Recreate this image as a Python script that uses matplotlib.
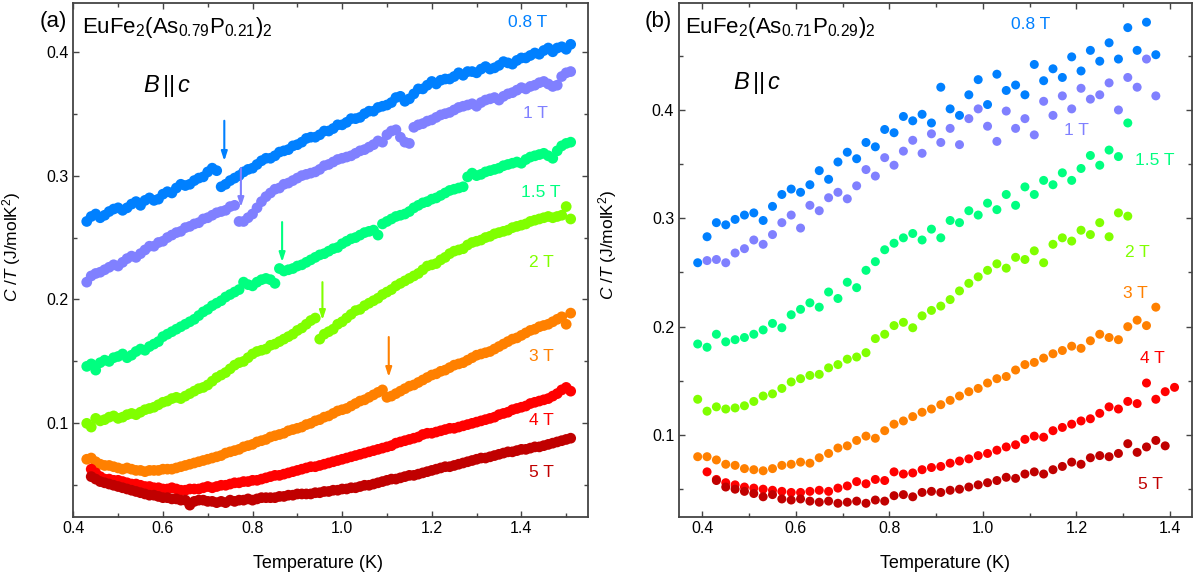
import matplotlib
matplotlib.use('Agg')
import matplotlib.pyplot as plt
from matplotlib.ticker import MultipleLocator

plt.rcParams['font.family'] = ['Liberation Sans', 'DejaVu Sans']
plt.rcParams['mathtext.fontset'] = 'custom'
plt.rcParams['mathtext.rm'] = 'Liberation Sans'
plt.rcParams['mathtext.it'] = 'Liberation Sans:italic'

# ---- panel (a): EuFe2(As0.79P0.21)2, 0.01 K steps ----
temp_a = [0.43, 0.44, 0.45, 0.46, 0.47, 0.48, 0.49, 0.50, 0.51, 0.52,
          0.53, 0.54, 0.55, 0.56, 0.57, 0.58, 0.59, 0.60, 0.61, 0.62,
          0.63, 0.64, 0.65, 0.66, 0.67, 0.68, 0.69, 0.70, 0.71, 0.72,
          0.73, 0.74, 0.75, 0.76, 0.77, 0.78, 0.79, 0.80, 0.81, 0.82,
          0.83, 0.84, 0.85, 0.86, 0.87, 0.88, 0.89, 0.90, 0.91, 0.92,
          0.93, 0.94, 0.95, 0.96, 0.97, 0.98, 0.99, 1.00, 1.01, 1.02,
          1.03, 1.04, 1.05, 1.06, 1.07, 1.08, 1.09, 1.10, 1.11, 1.12,
          1.13, 1.14, 1.15, 1.16, 1.17, 1.18, 1.19, 1.20, 1.21, 1.22,
          1.23, 1.24, 1.25, 1.26, 1.27, 1.28, 1.29, 1.30, 1.31, 1.32,
          1.33, 1.34, 1.35, 1.36, 1.37, 1.38, 1.39, 1.40, 1.41, 1.42,
          1.43, 1.44, 1.45, 1.46, 1.47, 1.48, 1.49, 1.50, 1.51]

a_08 = [0.263, 0.267, 0.269, 0.266, 0.268, 0.271, 0.273, 0.274, 0.272, 0.274,
        0.277, 0.279, 0.276, 0.280, 0.282, 0.280, 0.281, 0.285, 0.287, 0.286,
        0.290, 0.293, 0.292, 0.293, 0.296, 0.298, 0.299, 0.303, 0.306, 0.304,
        0.291, 0.293, 0.296, 0.298, 0.300, 0.303, 0.305, 0.306, 0.309, 0.312,
        0.314, 0.314, 0.316, 0.319, 0.320, 0.321, 0.324, 0.325, 0.327, 0.330,
        0.331, 0.331, 0.333, 0.336, 0.336, 0.338, 0.341, 0.341, 0.343, 0.346,
        0.346, 0.347, 0.350, 0.352, 0.352, 0.355, 0.356, 0.357, 0.359, 0.363,
        0.364, 0.360, 0.362, 0.366, 0.370, 0.370, 0.373, 0.376, 0.374, 0.377,
        0.378, 0.378, 0.380, 0.383, 0.381, 0.384, 0.384, 0.383, 0.386, 0.388,
        0.386, 0.387, 0.389, 0.392, 0.391, 0.390, 0.393, 0.395, 0.395, 0.397,
        0.399, 0.398, 0.401, 0.403, 0.400, 0.403, 0.404, 0.402, 0.406]
a_10 = [0.214, 0.219, 0.221, 0.222, 0.224, 0.226, 0.228, 0.227, 0.230, 0.233,
        0.235, 0.234, 0.237, 0.240, 0.243, 0.243, 0.246, 0.247, 0.250, 0.252,
        0.254, 0.255, 0.258, 0.259, 0.261, 0.262, 0.265, 0.266, 0.268, 0.270,
        0.271, 0.272, 0.275, 0.276, 0.263, 0.263, 0.266, 0.269, 0.274, 0.279,
        0.283, 0.286, 0.289, 0.290, 0.293, 0.294, 0.296, 0.298, 0.300, 0.301,
        0.302, 0.303, 0.305, 0.308, 0.309, 0.311, 0.313, 0.314, 0.315, 0.316,
        0.318, 0.320, 0.321, 0.323, 0.325, 0.328, 0.327, 0.333, 0.336, 0.337,
        0.331, 0.327, 0.326, 0.339, 0.341, 0.342, 0.344, 0.345, 0.347, 0.349,
        0.350, 0.351, 0.353, 0.355, 0.356, 0.357, 0.358, 0.356, 0.359, 0.361,
        0.362, 0.363, 0.361, 0.364, 0.366, 0.367, 0.369, 0.371, 0.370, 0.372,
        0.373, 0.375, 0.376, 0.374, 0.372, 0.373, 0.380, 0.383, 0.384]
a_15 = [0.146, 0.148, 0.143, 0.149, 0.151, 0.150, 0.153, 0.154, 0.156, 0.153,
        0.155, 0.158, 0.160, 0.159, 0.162, 0.164, 0.166, 0.170, 0.172, 0.174,
        0.176, 0.178, 0.180, 0.182, 0.184, 0.187, 0.190, 0.192, 0.195, 0.197,
        0.199, 0.202, 0.204, 0.206, 0.208, 0.214, 0.212, 0.211, 0.214, 0.216,
        0.217, 0.216, 0.213, 0.225, 0.223, 0.224, 0.225, 0.227, 0.228, 0.230,
        0.232, 0.234, 0.236, 0.237, 0.239, 0.241, 0.242, 0.245, 0.247, 0.249,
        0.250, 0.252, 0.254, 0.255, 0.256, 0.252, 0.261, 0.263, 0.265, 0.267,
        0.268, 0.269, 0.271, 0.274, 0.276, 0.278, 0.279, 0.281, 0.282, 0.284,
        0.286, 0.288, 0.289, 0.290, 0.291, 0.299, 0.302, 0.300, 0.301, 0.303,
        0.304, 0.305, 0.306, 0.308, 0.309, 0.310, 0.311, 0.310, 0.313, 0.315,
        0.316, 0.317, 0.318, 0.316, 0.314, 0.320, 0.324, 0.326, 0.327]
a_20 = [0.100, 0.097, 0.104, 0.102, 0.103, 0.105, 0.106, 0.104, 0.105, 0.107,
        0.108, 0.107, 0.109, 0.111, 0.112, 0.113, 0.115, 0.117, 0.118, 0.120,
        0.121, 0.120, 0.122, 0.124, 0.126, 0.128, 0.129, 0.131, 0.134, 0.137,
        0.139, 0.141, 0.144, 0.147, 0.149, 0.150, 0.153, 0.156, 0.158, 0.159,
        0.160, 0.163, 0.164, 0.166, 0.168, 0.170, 0.172, 0.175, 0.177, 0.180,
        0.183, 0.185, 0.168, 0.172, 0.174, 0.176, 0.180, 0.182, 0.185, 0.188,
        0.191, 0.192, 0.195, 0.197, 0.199, 0.201, 0.204, 0.206, 0.208, 0.211,
        0.213, 0.215, 0.217, 0.219, 0.221, 0.224, 0.227, 0.228, 0.229, 0.232,
        0.234, 0.237, 0.239, 0.240, 0.241, 0.244, 0.246, 0.247, 0.248, 0.250,
        0.251, 0.253, 0.254, 0.255, 0.256, 0.258, 0.259, 0.260, 0.261, 0.263,
        0.264, 0.265, 0.266, 0.267, 0.266, 0.267, 0.268, 0.275, 0.265]
a_30 = [0.071, 0.072, 0.069, 0.067, 0.066, 0.066, 0.065, 0.064, 0.063, 0.064,
        0.063, 0.062, 0.062, 0.061, 0.062, 0.062, 0.062, 0.063, 0.063, 0.063,
        0.064, 0.065, 0.066, 0.067, 0.068, 0.069, 0.070, 0.071, 0.072, 0.073,
        0.074, 0.076, 0.077, 0.078, 0.079, 0.081, 0.082, 0.083, 0.085, 0.086,
        0.087, 0.089, 0.090, 0.091, 0.092, 0.094, 0.095, 0.096, 0.097, 0.099,
        0.100, 0.102, 0.103, 0.105, 0.106, 0.108, 0.110, 0.111, 0.112, 0.114,
        0.116, 0.118, 0.119, 0.121, 0.123, 0.125, 0.127, 0.121, 0.122, 0.124,
        0.126, 0.128, 0.130, 0.131, 0.133, 0.135, 0.137, 0.139, 0.140, 0.142,
        0.143, 0.145, 0.147, 0.148, 0.149, 0.151, 0.153, 0.155, 0.156, 0.157,
        0.158, 0.160, 0.162, 0.164, 0.166, 0.168, 0.169, 0.171, 0.173, 0.175,
        0.176, 0.178, 0.179, 0.180, 0.182, 0.184, 0.186, 0.180, 0.189]
# 4 T and 5 T start at 0.44 K
a_40 = [0.063, 0.060, 0.057, 0.055, 0.055, 0.054, 0.054, 0.053, 0.052,
        0.051, 0.051, 0.050, 0.049, 0.049, 0.048, 0.048, 0.047, 0.047, 0.048,
        0.047, 0.046, 0.046, 0.047, 0.047, 0.047, 0.048, 0.049, 0.048, 0.049,
        0.050, 0.050, 0.051, 0.052, 0.052, 0.053, 0.053, 0.054, 0.054, 0.055,
        0.056, 0.057, 0.058, 0.058, 0.059, 0.060, 0.061, 0.062, 0.063, 0.064,
        0.065, 0.065, 0.066, 0.067, 0.068, 0.069, 0.070, 0.071, 0.072, 0.073,
        0.074, 0.075, 0.076, 0.077, 0.078, 0.079, 0.080, 0.081, 0.082, 0.084,
        0.085, 0.086, 0.087, 0.088, 0.089, 0.091, 0.092, 0.092, 0.093, 0.094,
        0.095, 0.096, 0.096, 0.097, 0.098, 0.099, 0.100, 0.101, 0.102, 0.103,
        0.104, 0.105, 0.107, 0.108, 0.109, 0.111, 0.112, 0.113, 0.114, 0.116,
        0.117, 0.118, 0.119, 0.120, 0.122, 0.124, 0.127, 0.129, 0.126]
a_50 = [0.057, 0.055, 0.053, 0.052, 0.051, 0.050, 0.049, 0.048, 0.047,
        0.046, 0.045, 0.044, 0.043, 0.042, 0.042, 0.041, 0.040, 0.040, 0.039,
        0.039, 0.038, 0.038, 0.034, 0.037, 0.038, 0.038, 0.037, 0.037, 0.036,
        0.037, 0.036, 0.038, 0.037, 0.038, 0.038, 0.039, 0.038, 0.039, 0.040,
        0.040, 0.040, 0.040, 0.041, 0.041, 0.042, 0.042, 0.043, 0.043, 0.043,
        0.043, 0.044, 0.044, 0.045, 0.045, 0.046, 0.046, 0.047, 0.047, 0.048,
        0.048, 0.049, 0.050, 0.050, 0.051, 0.052, 0.053, 0.054, 0.055, 0.055,
        0.056, 0.057, 0.058, 0.058, 0.059, 0.060, 0.061, 0.062, 0.063, 0.064,
        0.065, 0.065, 0.066, 0.067, 0.068, 0.069, 0.070, 0.071, 0.072, 0.072,
        0.073, 0.074, 0.075, 0.076, 0.077, 0.077, 0.078, 0.079, 0.079, 0.080,
        0.081, 0.081, 0.082, 0.083, 0.084, 0.085, 0.086, 0.087, 0.088]

# ---- panel (b): EuFe2(As0.71P0.29)2, 0.02 K steps ----
temp_b = [0.39, 0.41, 0.43, 0.45, 0.47, 0.49, 0.51, 0.53, 0.55, 0.57,
          0.59, 0.61, 0.63, 0.65, 0.67, 0.69, 0.71, 0.73, 0.75, 0.77,
          0.79, 0.81, 0.83, 0.85, 0.87, 0.89, 0.91, 0.93, 0.95, 0.97,
          0.99, 1.01, 1.03, 1.05, 1.07, 1.09, 1.11, 1.13, 1.15, 1.17,
          1.19, 1.21, 1.23, 1.25, 1.27, 1.29, 1.31, 1.33, 1.35, 1.37,
          1.39, 1.41]

b_08 = [0.259, 0.283, 0.296, 0.294, 0.299, 0.303, 0.305, 0.298, 0.311, 0.322,
        0.327, 0.324, 0.331, 0.344, 0.336, 0.352, 0.361, 0.355, 0.370, 0.366,
        0.382, 0.379, 0.394, 0.390, 0.396, 0.388, 0.421, 0.401, 0.395, 0.414,
        0.428, 0.405, 0.433, 0.418, 0.423, 0.414, 0.442, 0.427, 0.438, 0.430,
        0.449, 0.436, 0.455, 0.445, 0.462, 0.447, 0.476, 0.455, 0.481, 0.451]
b_10 = [0.261, 0.262, 0.259, 0.268, 0.272, 0.280, 0.276, 0.285, 0.296,
        0.303, 0.291, 0.312, 0.307, 0.319, 0.324, 0.318, 0.330, 0.345, 0.339,
        0.356, 0.349, 0.362, 0.372, 0.360, 0.378, 0.370, 0.383, 0.368, 0.392,
        0.401, 0.385, 0.371, 0.399, 0.383, 0.392, 0.377, 0.408, 0.395, 0.413,
        0.401, 0.420, 0.410, 0.414, 0.425, 0.400, 0.430, 0.421, 0.447, 0.413]
b_15 = [0.184, 0.181, 0.193, 0.186, 0.188, 0.190, 0.193, 0.197, 0.203, 0.199,
        0.211, 0.216, 0.222, 0.218, 0.232, 0.226, 0.241, 0.236, 0.252, 0.260,
        0.271, 0.277, 0.282, 0.286, 0.280, 0.290, 0.282, 0.298, 0.296, 0.307,
        0.303, 0.314, 0.308, 0.322, 0.312, 0.329, 0.322, 0.335, 0.331, 0.342,
        0.335, 0.346, 0.358, 0.349, 0.363, 0.357, 0.388]
b_20 = [0.133, 0.122, 0.126, 0.124, 0.125, 0.127, 0.131, 0.136, 0.138, 0.143,
        0.149, 0.152, 0.155, 0.156, 0.162, 0.165, 0.170, 0.172, 0.176, 0.189,
        0.193, 0.201, 0.204, 0.199, 0.210, 0.215, 0.219, 0.225, 0.233, 0.240,
        0.246, 0.252, 0.258, 0.254, 0.264, 0.262, 0.270, 0.259, 0.276, 0.282,
        0.279, 0.289, 0.285, 0.296, 0.283, 0.305, 0.302]
b_30 = [0.080, 0.080, 0.077, 0.073, 0.072, 0.069, 0.068, 0.067, 0.069, 0.072,
        0.073, 0.075, 0.074, 0.079, 0.083, 0.088, 0.090, 0.095, 0.099, 0.097,
        0.104, 0.110, 0.113, 0.117, 0.121, 0.124, 0.128, 0.132, 0.136, 0.140,
        0.143, 0.148, 0.152, 0.154, 0.160, 0.165, 0.167, 0.171, 0.175, 0.178,
        0.182, 0.180, 0.187, 0.193, 0.190, 0.188, 0.200, 0.206, 0.201, 0.218]
b_40 = [0.066, 0.059, 0.056, 0.054, 0.052, 0.051, 0.050, 0.049, 0.048,
        0.047, 0.047, 0.048, 0.049, 0.048, 0.051, 0.053, 0.057, 0.055, 0.059,
        0.058, 0.066, 0.064, 0.065, 0.068, 0.070, 0.071, 0.074, 0.076, 0.078,
        0.081, 0.083, 0.086, 0.089, 0.091, 0.096, 0.099, 0.098, 0.104, 0.107,
        0.110, 0.113, 0.115, 0.120, 0.126, 0.124, 0.131, 0.129, 0.148, 0.133,
        0.140, 0.144]
b_50 = [0.058, 0.052, 0.050, 0.048, 0.046, 0.043, 0.045, 0.041, 0.040,
        0.041, 0.039, 0.038, 0.039, 0.037, 0.038, 0.039, 0.037, 0.040, 0.039,
        0.044, 0.045, 0.043, 0.047, 0.048, 0.047, 0.049, 0.050, 0.052, 0.054,
        0.056, 0.058, 0.061, 0.060, 0.064, 0.066, 0.064, 0.068, 0.071, 0.075,
        0.073, 0.079, 0.081, 0.080, 0.083, 0.092, 0.084, 0.089, 0.095, 0.090]

fields = ['0.8 T', '1 T', '1.5 T', '2 T', '3 T', '4 T', '5 T']
colors = ['#0080ff', '#8080ff', '#00ff80', '#80ff00', '#ff8000', '#ff0000', '#c00000']

# (series, first temperature)
series_a = [(a_08, 0.43), (a_10, 0.43), (a_15, 0.43), (a_20, 0.43),
            (a_30, 0.43), (a_40, 0.44), (a_50, 0.44)]
series_b = [(b_08, 0.39), (b_10, 0.41), (b_15, 0.39), (b_20, 0.39),
            (b_30, 0.39), (b_40, 0.41), (b_50, 0.43)]

label_pos_a = [(1.414, 0.424), (1.431, 0.3505), (1.444, 0.2867), (1.444, 0.230),
               (1.444, 0.1543), (1.444, 0.1027), (1.444, 0.060)]
label_pos_b = [(1.102, 0.4785), (1.20, 0.3815), (1.367, 0.3538), (1.331, 0.268),
               (1.327, 0.231), (1.363, 0.171), (1.359, 0.0547)]

# transition arrows in (a): T, top, tip
arrow_t = [0.737, 0.774, 0.866, 0.956, 1.104]
arrow_top = [0.3443, 0.3061, 0.2625, 0.2140, 0.1697]
arrow_tip = [0.3118, 0.2746, 0.2302, 0.1834, 0.1374]

W, H = 1199, 582
fig = plt.figure(figsize=(W / 100, H / 100), dpi=100)
ax_a = fig.add_axes([73.3 / W, 1 - 516.5 / H, 514.4 / W, 513.8 / H])
ax_b = fig.add_axes([679 / W, 1 - 516.5 / H, 513.3 / W, 513.8 / H])


def draw(ax, temp, series, size):
    for (vals, t0), c in zip(series, colors):
        i0 = temp.index(t0)
        ax.scatter(temp[i0:i0 + len(vals)], vals, s=size, color=c,
                   edgecolors='none', zorder=3)


draw(ax_a, temp_a, series_a, 60)
draw(ax_b, temp_b, series_b, 42)

for (x, y), c, f in zip(label_pos_a, colors, fields):
    ax_a.text(x, y, f, color=c, fontsize=12.5, ha='center', va='center')
for (x, y), c, f in zip(label_pos_b, colors, fields):
    ax_b.text(x, y, f, color=c, fontsize=12.5, ha='center', va='center')

for t, y0, y1, c in zip(arrow_t, arrow_top, arrow_tip, colors):
    ax_a.annotate('', xy=(t, y1), xytext=(t, y0),
                  arrowprops=dict(arrowstyle='-|>,head_length=0.55,head_width=0.18',
                                  color=c, lw=1.5, shrinkA=0, shrinkB=0))

ax_a.set_xlim(0.4, 1.548)
ax_a.set_ylim(0.0248, 0.4396)
ax_b.set_xlim(0.35, 1.448)
ax_b.set_ylim(0.0248, 0.499)

for ax in (ax_a, ax_b):
    ax.xaxis.set_major_locator(MultipleLocator(0.2))
    ax.xaxis.set_minor_locator(MultipleLocator(0.1))
    ax.yaxis.set_major_locator(MultipleLocator(0.1))
    ax.yaxis.set_minor_locator(MultipleLocator(0.05))
    ax.tick_params(which='both', direction='in', top=True, right=True,
                   color='#444444', labelsize=11.5, width=1.0)
    ax.tick_params(which='major', length=4)
    ax.tick_params(which='minor', length=3)
    for sp in ax.spines.values():
        sp.set_color('#444444')
        sp.set_linewidth(1.3)
    ax.set_xlabel('Temperature (K)', fontsize=13)
    ax.set_ylabel(r'$C$ /$T$ (J/molK$^2$)', fontsize=12.5)

ax_a.xaxis.set_label_coords(0.475, -0.075)
ax_b.xaxis.set_label_coords(0.518, -0.075)
ax_a.yaxis.set_label_coords(-0.098, 0.525)
ax_b.yaxis.set_label_coords(-0.117, 0.53)

fig.text(67 / W, 1 - 22 / H, '(a)', fontsize=16, ha='right', va='center')
fig.text(672 / W, 1 - 22 / H, '(b)', fontsize=16, ha='right', va='center')
ax_a.text(0.016, 0.941, r'EuFe$_2$(As$_{0.79}$P$_{0.21}$)$_2$', fontsize=16,
          transform=ax_a.transAxes, va='baseline')
ax_b.text(0.0117, 0.941, r'EuFe$_2$(As$_{0.71}$P$_{0.29}$)$_2$', fontsize=16,
          transform=ax_b.transAxes, va='baseline')
ax_a.text(0.1355, 0.838, r'$B\,$||$\,c$', fontsize=17, transform=ax_a.transAxes,
          va='center')
ax_b.text(0.105, 0.844, r'$B\,$||$\,c$', fontsize=17, transform=ax_b.transAxes,
          va='center')

fig.savefig('out.png', dpi=100)
